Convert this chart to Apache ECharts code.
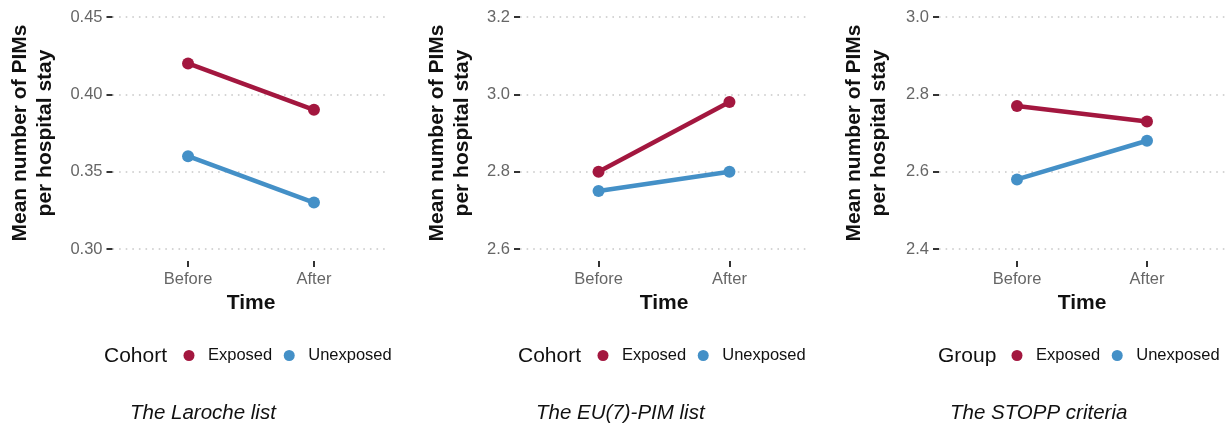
<!DOCTYPE html>
<html>
<head>
<meta charset="utf-8">
<script src="https://cdn.jsdelivr.net/npm/echarts@6/dist/echarts.min.js"></script>
<style>
  html, body { margin: 0; padding: 0; background: #fff; }
  #chart { width: 1231px; height: 426px; }
</style>
</head>
<body>
<div id="chart"></div>
<script>
// Time points on the x axis
const timePoints = ['Before', 'After'];

// Mean number of PIMs per hospital stay, by list
const larocheExposed = [0.42, 0.39];
const larocheUnexposed = [0.36, 0.33];
const euPimExposed = [2.80, 2.98];
const euPimUnexposed = [2.75, 2.80];
const stoppExposed = [2.77, 2.73];
const stoppUnexposed = [2.58, 2.68];

// Y axis ranges and tick steps per panel
const larocheTicks = { min: 0.30, max: 0.45, step: 0.05, digits: 2 };
const euPimTicks = { min: 2.6, max: 3.2, step: 0.2, digits: 1 };
const stoppTicks = { min: 2.4, max: 3.0, step: 0.2, digits: 1 };

const panelCaptions = ['The Laroche list', 'The EU(7)-PIM list', 'The STOPP criteria'];
const legendTitles = ['Cohort', 'Cohort', 'Group'];
const groupNames = ['Exposed', 'Unexposed'];

const RED = '#A3173F';
const BLUE = '#4490C7';
const FONT = 'Liberation Sans, Arial, sans-serif';

// Panel frames; the category range runs from 0.4 to 2.6 like a discrete scale with padding
const panels = [
  { ex: larocheExposed, un: larocheUnexposed, ticks: larocheTicks, left: 112.5, width: 277, nameGap: 55 },
  { ex: euPimExposed, un: euPimUnexposed, ticks: euPimTicks, left: 520, width: 288, nameGap: 45 },
  { ex: stoppExposed, un: stoppUnexposed, ticks: stoppTicks, left: 939, width: 286, nameGap: 47 }
];

const positions = timePoints.map((_, i) => i + 1);

const grids = [], xAxes = [], yAxes = [], series = [];
panels.forEach((p, k) => {
  grids.push({ left: p.left, top: 17, width: p.width, height: 232 });
  xAxes.push({
    type: 'value', gridIndex: k, min: 0.4, max: 2.6, offset: 12,
    axisLine: { show: false },
    axisTick: { show: true, length: 6, customValues: positions, lineStyle: { color: '#333', width: 2 } },
    axisLabel: {
      customValues: positions, margin: 10, color: '#666', fontSize: 16.5, fontFamily: FONT,
      formatter: v => timePoints[Math.round(v) - 1]
    },
    splitLine: { show: false },
    name: 'Time', nameLocation: 'middle', nameGap: 30,
    nameTextStyle: { fontSize: 21, fontWeight: 'bold', color: '#111', fontFamily: FONT }
  });
  yAxes.push({
    type: 'value', gridIndex: k, min: p.ticks.min, max: p.ticks.max, interval: p.ticks.step,
    axisLine: { show: false },
    axisTick: { show: true, length: 6, lineStyle: { color: '#333', width: 2 } },
    axisLabel: { margin: 10, color: '#666', fontSize: 16.5, fontFamily: FONT,
      formatter: v => v.toFixed(p.ticks.digits) },
    splitLine: { show: true, lineStyle: { color: '#c8c8c8', width: 1.6, type: [1.6, 5] } },
    name: 'Mean number of PIMs\nper hospital stay', nameLocation: 'middle', nameRotate: 90,
    nameGap: p.nameGap,
    nameTextStyle: { fontSize: 21, fontWeight: 'bold', color: '#111', fontFamily: FONT, lineHeight: 25 }
  });
  [[groupNames[0], p.ex, RED], [groupNames[1], p.un, BLUE]].forEach(([name, vals, color]) => {
    series.push({
      name, type: 'line', xAxisIndex: k, yAxisIndex: k,
      data: vals.map((v, i) => [positions[i], v]),
      symbol: 'circle', symbolSize: 12,
      lineStyle: { width: 4.5, color }, itemStyle: { color },
      emphasis: { disabled: true }, silent: true, animation: false
    });
  });
});

const legendLayout = [
  { titleLeft: 104, legendLeft: 183.5 },
  { titleLeft: 518, legendLeft: 597.5 },
  { titleLeft: 938, legendLeft: 1011.5 }
];
const captionLeft = [130, 536, 950];

const titles = [];
legendLayout.forEach((l, k) => {
  titles.push({ text: legendTitles[k], left: l.titleLeft, top: 346, padding: 0,
    textStyle: { fontSize: 21, fontWeight: 'normal', color: '#111', fontFamily: FONT } });
  titles.push({ text: panelCaptions[k], left: captionLeft[k], top: 403, padding: 0,
    textStyle: { fontSize: 20.5, fontWeight: 'normal', fontStyle: 'italic', color: '#111', fontFamily: FONT } });
});

const legends = legendLayout.map(l => ({
  data: groupNames, left: l.legendLeft, top: 347, padding: 0, icon: 'circle',
  itemWidth: 11, itemHeight: 11, itemGap: 11.5, selectedMode: false,
  textStyle: { fontSize: 16.5, color: '#111', fontFamily: FONT, padding: [0, 0, 0, 8.5] }
}));

const chart = echarts.init(document.getElementById('chart'), null, { renderer: 'canvas' });
chart.setOption({
  backgroundColor: '#fff',
  animation: false,
  title: titles,
  legend: legends,
  grid: grids,
  xAxis: xAxes,
  yAxis: yAxes,
  series
});
</script>
</body>
</html>
